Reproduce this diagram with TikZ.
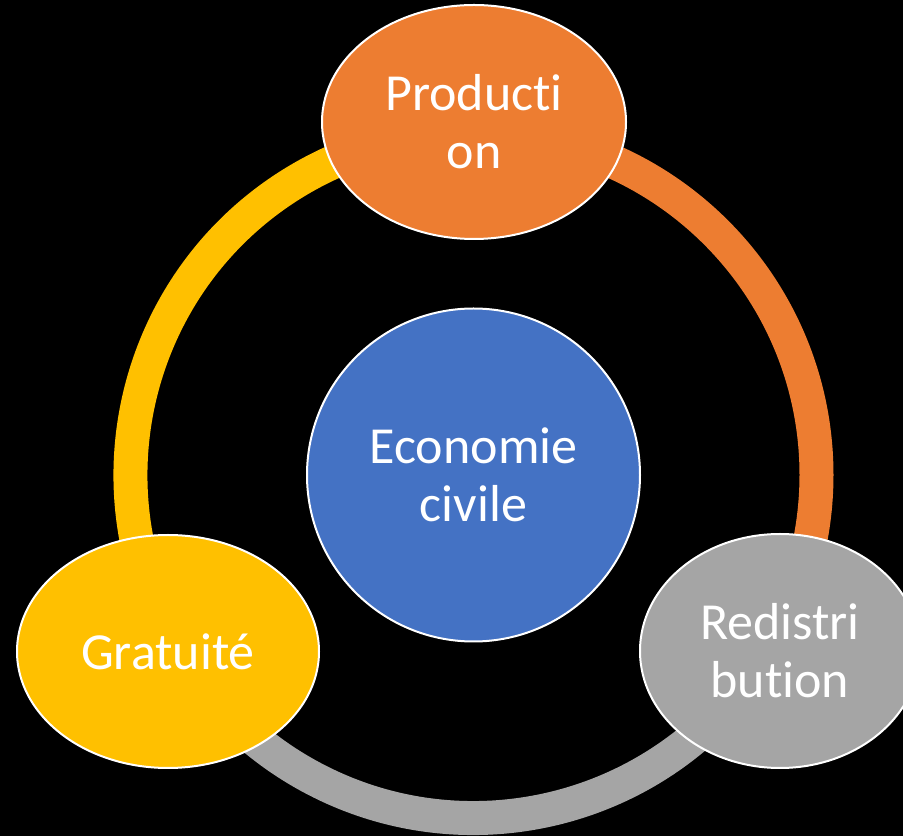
\documentclass[tikz,border=0pt]{standalone}
\usepackage{fontspec}
\setmainfont{Carlito}[Ligatures=NoCommon]
\usetikzlibrary{shapes.geometric}
\definecolor{orgC}{HTML}{ED7D31}
\definecolor{bluC}{HTML}{4472C4}
\definecolor{greyC}{HTML}{A5A5A5}
\definecolor{yelC}{HTML}{FFC000}

\begin{document}
\begin{tikzpicture}[x=1pt, y=1pt,
  blob/.style={ellipse, draw=white, line width=2pt, text=white, align=center,
    inner sep=0pt, font=\fontsize{52}{58}\selectfont},
  seg/.style={line width=34pt}
]
\fill[black] (0,0) rectangle (903,836);
\useasboundingbox (0,0) rectangle (903,836);

\node[blob, circle, fill=bluC, minimum size=333pt] (eco) at (473.5,361) {Economie\\civile};

\draw[seg, orgC]  (eco.center) ++(90:343pt)  arc[start angle=90,  end angle=-30,  radius=343pt];
\draw[seg, greyC] (eco.center) ++(-30:343pt) arc[start angle=-30, end angle=-150, radius=343pt];
\draw[seg, yelC]  (eco.center) ++(210:343pt) arc[start angle=210, end angle=90,   radius=343pt];

\node[blob, fill=orgC, minimum width=304pt, minimum height=234pt] (prod) at (474,714) {Producti\\on};
\node[blob, fill=greyC, minimum width=280pt, minimum height=234pt] (redi) at (780,185) {Redistri\\bution};
\node[blob, fill=yelC, minimum width=302pt, minimum height=233pt] (grat) at (168,184.5) {Gratuité};
\end{tikzpicture}
\end{document}
